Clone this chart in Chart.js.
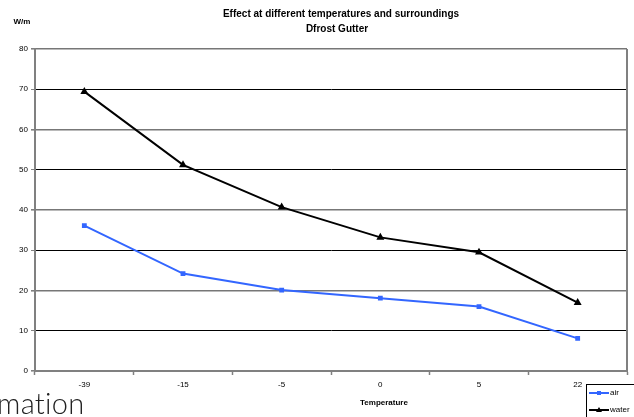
<!DOCTYPE html>
<html>
<head>
<meta charset="utf-8">
<script src="https://cdn.jsdelivr.net/npm/chart.js@4/dist/chart.umd.min.js"></script>
<style>
  body { margin: 0; background: #fff; }
  #wrap { position: relative; width: 634px; height: 417px; overflow: hidden; }
  #cut { position: absolute; left: -3px; top: 385px; font: 300 29px Lato, "Open Sans", sans-serif; color: #222; letter-spacing: 0.3px; }
</style>
</head>
<body>
<div id="wrap">
  <canvas id="myChart" width="634" height="417"></canvas>
  <div id="cut">mation</div>
</div>
<script>
// data
var temperatures = ['-39', '-15', '-5', '0', '5', '22'];
var airValues = [36.1, 24.2, 20.1, 18.1, 16.0, 8.1];
var waterValues = [69.4, 51.2, 40.7, 33.2, 29.5, 17.0];
var yTicks = [0, 10, 20, 30, 40, 50, 60, 70, 80];

var titleLines = ['Effect at different temperatures and surroundings', 'Dfrost Gutter'];
var yUnit = 'W/m';
var xTitle = 'Temperature';

Chart.defaults.font.family = '"Liberation Sans", Arial, sans-serif';
Chart.defaults.font.size = 8;
Chart.defaults.color = '#000';

// texts, frame and the little legend box
var extras = {
  id: 'extras',
  afterDraw: function(chart) {
    var c = chart.ctx, a = chart.chartArea;
    c.save();
    // right frame line
    c.strokeStyle = '#808080';
    c.lineWidth = 2;
    c.beginPath();
    c.moveTo(a.right, a.top);
    c.lineTo(a.right, a.bottom);
    c.stroke();

    c.fillStyle = '#000';
    c.textAlign = 'center';
    c.textBaseline = 'middle';
    c.font = 'bold 10px "Liberation Sans", Arial';
    c.fillText(titleLines[0], 341, 14);
    c.fillText(titleLines[1], 337, 29);
    c.font = 'bold 8px "Liberation Sans", Arial';
    c.fillText(yUnit, 22, 22);
    c.fillText(xTitle, 384, 403);

    // legend
    c.fillStyle = '#fff';
    c.fillRect(586, 384, 60, 40);
    c.strokeStyle = '#000';
    c.lineWidth = 1;
    c.strokeRect(586.5, 384.5, 60, 40);
    var rows = [393, 410];
    chart.data.datasets.forEach(function(ds, i) {
      var y = rows[i];
      c.strokeStyle = ds.borderColor;
      c.lineWidth = 2;
      c.beginPath();
      c.moveTo(589, y);
      c.lineTo(609, y);
      c.stroke();
      c.fillStyle = ds.borderColor;
      if (ds.pointStyle === 'rect') {
        c.fillRect(597, y - 2, 4, 4);
      } else {
        c.beginPath();
        c.moveTo(599, y - 3);
        c.lineTo(602, y + 2);
        c.lineTo(596, y + 2);
        c.closePath();
        c.fill();
      }
      c.fillStyle = '#000';
      c.textAlign = 'left';
      c.font = '8px "Liberation Sans", Arial';
      c.fillText(ds.label, 610, y);
    });
    c.restore();
  }
};

var ctx = document.getElementById('myChart').getContext('2d');
var chart = new Chart(ctx, {
  type: 'line',
  data: {
    labels: temperatures,
    datasets: [{
      label: 'air',
      data: airValues,
      borderColor: '#3366FF',
      backgroundColor: '#3366FF',
      borderWidth: 2,
      pointStyle: 'rect',
      pointRadius: 2,
      tension: 0
    }, {
      label: 'water',
      data: waterValues,
      borderColor: '#000000',
      backgroundColor: '#000000',
      borderWidth: 2,
      pointStyle: 'triangle',
      pointRadius: 2.6,
      tension: 0
    }]
  },
  options: {
    responsive: false,
    animation: false,
    layout: { padding: { top: 49, right: 7, bottom: 0, left: 0 } },
    plugins: {
      legend: { display: false },
      title: { display: false },
      tooltip: { enabled: false }
    },
    scales: {
      x: {
        offset: true,
        afterFit: function(s) { s.height = 46; },
        grid: {
          offset: true,
          drawOnChartArea: false,
          drawTicks: true,
          tickLength: 4,
          tickColor: '#808080',
          tickWidth: 1.5
        },
        border: { color: '#808080', width: 2 },
        ticks: { padding: 5, maxRotation: 0 }
      },
      y: {
        min: 0,
        max: 80,
        afterFit: function(s) { s.width = 35; },
        afterBuildTicks: function(s) {
          s.ticks = yTicks.map(function(v) { return { value: v }; });
        },
        grid: {
          color: function(c) { return c.tick && c.tick.value % 20 === 0 ? '#777' : '#000'; },
          lineWidth: function(c) { return c.tick && c.tick.value % 20 === 0 ? 1.6 : 1; },
          tickLength: 4,
          tickColor: '#808080'
        },
        border: { color: '#808080', width: 2 },
        ticks: { padding: 3 }
      }
    }
  },
  plugins: [extras]
});
</script>
</body>
</html>
